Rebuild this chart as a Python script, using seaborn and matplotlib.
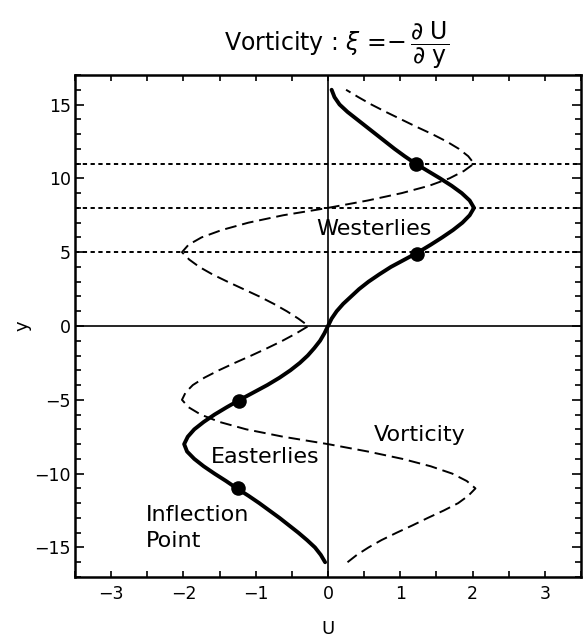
import matplotlib
matplotlib.use("Agg")
import matplotlib.pyplot as plt
import seaborn as sns
import pandas as pd
import numpy as np

# ---- data ----
y_levels = [-16, -15.5, -15, -14.5, -14, -13.5, -13, -12.5, -12, -11.5, -11, -10.5, -10, -9.5,
            -9, -8.5, -8, -7.5, -7, -6.5, -6, -5.5, -5, -4.5, -4, -3.5, -3, -2.5, -2, -1.5,
            -1, -0.5, 0, 0.5, 1, 1.5, 2, 2.5, 3, 3.5, 4, 4.5, 5, 5.5, 6, 6.5, 7, 7.5, 8, 8.5,
            9, 9.5, 10, 10.5, 11, 11.5, 12, 12.5, 13, 13.5, 14, 14.5, 15, 15.5, 16]
u_wind = [-0.04, -0.10, -0.18, -0.29, -0.41, -0.54, -0.67, -0.81, -0.95, -1.10, -1.26, -1.41,
          -1.57, -1.72, -1.85, -1.95, -1.99, -1.94, -1.85, -1.72, -1.57, -1.40, -1.22, -1.03,
          -0.84, -0.67, -0.52, -0.39, -0.28, -0.19, -0.11, -0.05, 0.00, 0.05, 0.12, 0.21, 0.32,
          0.43, 0.56, 0.71, 0.87, 1.06, 1.25, 1.42, 1.58, 1.73, 1.86, 1.96, 2.02, 1.96, 1.85,
          1.71, 1.55, 1.38, 1.21, 1.06, 0.92, 0.79, 0.66, 0.53, 0.40, 0.27, 0.16, 0.09, 0.05]
vorticity = [0.27, 0.40, 0.56, 0.74, 0.95, 1.17, 1.38, 1.60, 1.80, 1.94, 2.04, 1.92, 1.72, 1.42,
             1.03, 0.55, 0.00, -0.62, -1.13, -1.50, -1.76, -1.93, -2.02, -1.97, -1.87, -1.71,
             -1.51, -1.29, -1.06, -0.84, -0.63, -0.44, -0.27, -0.41, -0.57, -0.75, -0.95, -1.17,
             -1.39, -1.60, -1.78, -1.92, -2.02, -1.93, -1.75, -1.47, -1.10, -0.62, 0.00, 0.55,
             1.02, 1.40, 1.68, 1.88, 2.02, 1.94, 1.81, 1.64, 1.44, 1.22, 1.01, 0.80, 0.60, 0.42,
             0.25]
inflection_y = [-11.0, -5.05, 4.9, 11.0]
inflection_u = [-1.25, -1.23, 1.23, 1.22]
ref_y = [5, 8, 11]
x_ticks = [-3, -2, -1, 0, 1, 2, 3]
y_ticks = [-15, -10, -5, 0, 5, 10, 15]

sns.set_style("ticks")
plt.rcParams['font.family'] = ['DejaVu Sans']
plt.rcParams['mathtext.fontset'] = 'dejavusans'
for k in ['text.color', 'axes.labelcolor', 'xtick.color', 'ytick.color']:
    plt.rcParams[k] = 'black'

fig = plt.figure(figsize=(5.83, 6.4), dpi=100)
W, H = 583, 640
ax = fig.add_axes([75 / W, 1 - 577 / H, 506 / W, 502 / H])

df = pd.DataFrame({'y': y_levels, 'U': u_wind, 'xi': vorticity})
pts = pd.DataFrame({'y': inflection_y, 'U': inflection_u})

# reference lines
ax.axvline(0, color='black', lw=1.2, zorder=1)
ax.axhline(0, color='black', lw=1.2, zorder=1)
for yv in ref_y:
    ax.axhline(yv, color='black', lw=1.4, linestyle=(0, (2.2, 1.8)), zorder=1)

sns.lineplot(data=df, x='xi', y='y', orient='y', sort=False, estimator=None, ax=ax,
             color='black', lw=1.4, linestyle=(0, (6, 3)), zorder=2)
sns.lineplot(data=df, x='U', y='y', orient='y', sort=False, estimator=None, ax=ax,
             color='black', lw=2.8, zorder=3)
sns.scatterplot(data=pts, x='U', y='y', ax=ax, color='black', s=110, edgecolor='black',
                linewidth=0, zorder=4)

ax.set_xlim(-3.42, 3.42)
ax.set_ylim(-17, 17)
ax.set_xticks(x_ticks)
ax.set_xticks(np.arange(-3.5, 3.51, 0.5), minor=True)
ax.set_yticks(y_ticks)
ax.set_yticks(np.arange(-17, 17.01, 1), minor=True)
ax.tick_params(which='both', direction='in', top=True, right=True, width=1.2,
               labelsize=12.5, colors='black')
ax.tick_params(axis='x', which='both', length=4.5, pad=6)
ax.tick_params(axis='y', which='major', length=6.5, pad=3)
ax.tick_params(axis='y', which='minor', length=4)
for sp in ax.spines.values():
    sp.set_linewidth(1.8)
    sp.set_color('black')

ax.set_xlabel('U', fontsize=13, labelpad=12)
ax.set_ylabel('y', fontsize=13, labelpad=2)

fs = 16
ax.text(0.63, 6.55, 'Westerlies', ha='center', va='center', fontsize=fs, zorder=5)
ax.text(-0.87, -8.9, 'Easterlies', ha='center', va='center', fontsize=fs, zorder=5)
ax.text(1.27, -7.4, 'Vorticity', ha='center', va='center', fontsize=fs, zorder=5)
ax.text(-2.52, -12.77, 'Inflection', ha='left', va='center', fontsize=fs, zorder=5)
ax.text(-2.52, -14.53, 'Point', ha='left', va='center', fontsize=fs, zorder=5)

fig.text(337 / W, 1 - 45 / H,
         r'Vorticity : $\xi$ =$-\,\dfrac{\partial\ \mathrm{U}}{\partial\ \mathrm{y}}$',
         ha='center', va='center', fontsize=17)

fig.savefig('out.png', dpi=100)
